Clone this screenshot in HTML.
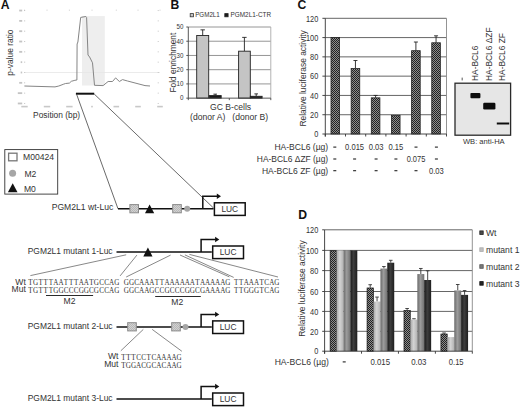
<!DOCTYPE html>
<html><head><meta charset="utf-8"><style>html,body{margin:0;padding:0;background:#fff;width:520px;height:409px;overflow:hidden}</style></head>
<body>
<svg width="520" height="409" viewBox="0 0 520 409" style="display:block">
<defs>
<pattern id="chk" x="0" y="0" width="2" height="2" patternUnits="userSpaceOnUse">
<rect width="2" height="2" fill="#8e8e8e"/><rect width="1" height="1" fill="#222"/><rect x="1" y="1" width="1" height="1" fill="#222"/>
</pattern>
<linearGradient id="g1" x1="0" x2="1" y1="0" y2="0"><stop offset="0" stop-color="#a9a9a9"/><stop offset="0.45" stop-color="#d4d4d4"/><stop offset="1" stop-color="#b0b0b0"/></linearGradient>
<linearGradient id="g2" x1="0" x2="1" y1="0" y2="0"><stop offset="0" stop-color="#6a6a6a"/><stop offset="0.45" stop-color="#9c9c9c"/><stop offset="1" stop-color="#707070"/></linearGradient>
<linearGradient id="g3" x1="0" x2="1" y1="0" y2="0"><stop offset="0" stop-color="#1a1a1a"/><stop offset="0.45" stop-color="#3e3e3e"/><stop offset="1" stop-color="#1e1e1e"/></linearGradient>
<pattern id="sq" x="0" y="0" width="2" height="2" patternUnits="userSpaceOnUse">
<rect width="2" height="2" fill="#d2d2d2"/><rect width="1" height="1" fill="#b8b8b8"/><rect x="1" y="1" width="1" height="1" fill="#b8b8b8"/>
</pattern>
<filter id="bl" x="-20%" y="-50%" width="140%" height="200%"><feGaussianBlur stdDeviation="0.45"/></filter>
</defs>
<rect width="520" height="409" fill="#fff"/>
<text x="0.8" y="9.4" font-family="Liberation Sans" font-weight="bold" font-size="12.2" fill="#111">A</text>
<text x="170.4" y="9.0" font-family="Liberation Sans" font-weight="bold" font-size="12.2" fill="#111">B</text>
<text x="297.4" y="9.4" font-family="Liberation Sans" font-weight="bold" font-size="12.2" fill="#111">C</text>
<text x="298.2" y="218.6" font-family="Liberation Sans" font-weight="bold" font-size="12.2" fill="#111">D</text>
<rect x="82" y="16.1" width="22.8" height="69.4" fill="#eeeeee"/>
<line x1="25" y1="72.5" x2="160" y2="72.5" stroke="#e6e6e6" stroke-width="0.8"/>
<rect x="19.20" y="9.65" width="3.0" height="1.8" fill="#c4c4c4"/>
<line x1="24" y1="10.55" x2="25.2" y2="10.55" stroke="#aaa" stroke-width="0.6"/>
<line x1="157.6" y1="10.55" x2="159" y2="10.55" stroke="#bbb" stroke-width="0.6"/>
<rect x="19.20" y="19.98" width="3.0" height="1.8" fill="#c4c4c4"/>
<line x1="24" y1="20.88" x2="25.2" y2="20.88" stroke="#aaa" stroke-width="0.6"/>
<line x1="157.6" y1="20.88" x2="159" y2="20.88" stroke="#bbb" stroke-width="0.6"/>
<rect x="19.20" y="30.30" width="3.0" height="1.8" fill="#c4c4c4"/>
<line x1="24" y1="31.20" x2="25.2" y2="31.20" stroke="#aaa" stroke-width="0.6"/>
<line x1="157.6" y1="31.20" x2="159" y2="31.20" stroke="#bbb" stroke-width="0.6"/>
<rect x="19.20" y="40.63" width="3.0" height="1.8" fill="#c4c4c4"/>
<line x1="24" y1="41.53" x2="25.2" y2="41.53" stroke="#aaa" stroke-width="0.6"/>
<line x1="157.6" y1="41.53" x2="159" y2="41.53" stroke="#bbb" stroke-width="0.6"/>
<rect x="19.20" y="50.95" width="3.0" height="1.8" fill="#c4c4c4"/>
<line x1="24" y1="51.85" x2="25.2" y2="51.85" stroke="#aaa" stroke-width="0.6"/>
<line x1="157.6" y1="51.85" x2="159" y2="51.85" stroke="#bbb" stroke-width="0.6"/>
<rect x="20.70" y="61.27" width="1.5" height="1.8" fill="#c4c4c4"/>
<line x1="24" y1="62.17" x2="25.2" y2="62.17" stroke="#aaa" stroke-width="0.6"/>
<line x1="157.6" y1="62.17" x2="159" y2="62.17" stroke="#bbb" stroke-width="0.6"/>
<rect x="20.70" y="71.60" width="1.5" height="1.8" fill="#c4c4c4"/>
<line x1="24" y1="72.50" x2="25.2" y2="72.50" stroke="#aaa" stroke-width="0.6"/>
<line x1="157.6" y1="72.50" x2="159" y2="72.50" stroke="#bbb" stroke-width="0.6"/>
<rect x="19.20" y="81.92" width="3.0" height="1.8" fill="#c4c4c4"/>
<line x1="24" y1="82.83" x2="25.2" y2="82.83" stroke="#aaa" stroke-width="0.6"/>
<line x1="157.6" y1="82.83" x2="159" y2="82.83" stroke="#bbb" stroke-width="0.6"/>
<rect x="17.80" y="92.25" width="4.4" height="1.8" fill="#c4c4c4"/>
<line x1="24" y1="93.15" x2="25.2" y2="93.15" stroke="#aaa" stroke-width="0.6"/>
<line x1="157.6" y1="93.15" x2="159" y2="93.15" stroke="#bbb" stroke-width="0.6"/>
<rect x="17.80" y="102.57" width="4.4" height="1.8" fill="#c4c4c4"/>
<line x1="24" y1="103.47" x2="25.2" y2="103.47" stroke="#aaa" stroke-width="0.6"/>
<line x1="157.6" y1="103.47" x2="159" y2="103.47" stroke="#bbb" stroke-width="0.6"/>
<rect x="21.30" y="105.8" width="6.4" height="1.6" fill="#c8c8c8"/>
<line x1="24.5" y1="9.6" x2="24.5" y2="10.8" stroke="#bbb" stroke-width="0.6"/>
<rect x="43.80" y="105.8" width="6.4" height="1.6" fill="#c8c8c8"/>
<line x1="47.0" y1="9.6" x2="47.0" y2="10.8" stroke="#bbb" stroke-width="0.6"/>
<rect x="66.20" y="105.8" width="6.4" height="1.6" fill="#c8c8c8"/>
<line x1="69.4" y1="9.6" x2="69.4" y2="10.8" stroke="#bbb" stroke-width="0.6"/>
<rect x="91.20" y="105.8" width="1.6" height="1.6" fill="#c8c8c8"/>
<line x1="92.0" y1="9.6" x2="92.0" y2="10.8" stroke="#bbb" stroke-width="0.6"/>
<rect x="113.50" y="105.8" width="5.6" height="1.6" fill="#c8c8c8"/>
<line x1="116.3" y1="9.6" x2="116.3" y2="10.8" stroke="#bbb" stroke-width="0.6"/>
<rect x="135.20" y="105.8" width="5.6" height="1.6" fill="#c8c8c8"/>
<line x1="138.0" y1="9.6" x2="138.0" y2="10.8" stroke="#bbb" stroke-width="0.6"/>
<rect x="157.20" y="105.8" width="5.6" height="1.6" fill="#c8c8c8"/>
<line x1="160.0" y1="9.6" x2="160.0" y2="10.8" stroke="#bbb" stroke-width="0.6"/>
<polyline fill="none" stroke="#858585" stroke-width="1" stroke-linejoin="round" points="24.4,86 55,86.9 58.8,86 63.8,84.1 65.6,83.5 69.4,83.1 71.3,81.3 74.9,80.3 76.9,80.0 77.1,44.0 77.9,42.0 80.7,17.4 85.9,16.5 86.6,17.5 88,55 89.6,57 92.5,62.8 94.5,85.3 103.1,85.6 108.1,81.5 112.5,81.5 115.6,77.9 119.4,81.5 122.5,79.6 127.5,81 145,85.6 150,86"/>
<line x1="75.9" y1="93.7" x2="94.2" y2="93.7" stroke="#111" stroke-width="2"/>
<line x1="76.5" y1="94" x2="118" y2="208.8" stroke="#444" stroke-width="0.8"/>
<line x1="94.2" y1="94" x2="213.5" y2="208" stroke="#444" stroke-width="0.8"/>
<text x="33.1" y="117.5" font-family="Liberation Sans" font-size="8.4" fill="#333">Position (bp)</text>
<text transform="translate(13.4,52.6) rotate(-90)" font-family="Liberation Sans" font-size="8.6" fill="#333" text-anchor="middle" textLength="46.2" lengthAdjust="spacingAndGlyphs">p-value ratio</text>
<line x1="188.3" y1="83.92" x2="270.8" y2="83.92" stroke="#8a8a8a" stroke-width="0.9"/>
<line x1="188.3" y1="69.69" x2="270.8" y2="69.69" stroke="#8a8a8a" stroke-width="0.9"/>
<line x1="188.3" y1="55.46" x2="270.8" y2="55.46" stroke="#8a8a8a" stroke-width="0.9"/>
<line x1="188.3" y1="41.23" x2="270.8" y2="41.23" stroke="#8a8a8a" stroke-width="0.9"/>
<line x1="188.3" y1="27.00" x2="270.8" y2="27.00" stroke="#8a8a8a" stroke-width="0.9"/>
<line x1="270.8" y1="27.00" x2="270.8" y2="98.15" stroke="#aaa" stroke-width="0.9"/>
<line x1="186.3" y1="98.15" x2="188.3" y2="98.15" stroke="#444" stroke-width="0.9"/>
<text x="183.4" y="100.45" font-family="Liberation Sans" font-size="7.4" fill="#333" text-anchor="end" textLength="3.5" lengthAdjust="spacingAndGlyphs">0</text>
<line x1="186.3" y1="83.92" x2="188.3" y2="83.92" stroke="#444" stroke-width="0.9"/>
<text x="183.4" y="86.22" font-family="Liberation Sans" font-size="7.4" fill="#333" text-anchor="end" textLength="6.9" lengthAdjust="spacingAndGlyphs">10</text>
<line x1="186.3" y1="69.69" x2="188.3" y2="69.69" stroke="#444" stroke-width="0.9"/>
<text x="183.4" y="71.99" font-family="Liberation Sans" font-size="7.4" fill="#333" text-anchor="end" textLength="6.9" lengthAdjust="spacingAndGlyphs">20</text>
<line x1="186.3" y1="55.46" x2="188.3" y2="55.46" stroke="#444" stroke-width="0.9"/>
<text x="183.4" y="57.76" font-family="Liberation Sans" font-size="7.4" fill="#333" text-anchor="end" textLength="6.9" lengthAdjust="spacingAndGlyphs">30</text>
<line x1="186.3" y1="41.23" x2="188.3" y2="41.23" stroke="#444" stroke-width="0.9"/>
<text x="183.4" y="43.53" font-family="Liberation Sans" font-size="7.4" fill="#333" text-anchor="end" textLength="6.9" lengthAdjust="spacingAndGlyphs">40</text>
<line x1="186.3" y1="27.00" x2="188.3" y2="27.00" stroke="#444" stroke-width="0.9"/>
<text x="183.4" y="29.30" font-family="Liberation Sans" font-size="7.4" fill="#333" text-anchor="end" textLength="6.9" lengthAdjust="spacingAndGlyphs">50</text>
<line x1="202.70" y1="35.54" x2="202.70" y2="29.85" stroke="#222" stroke-width="0.9"/>
<line x1="200.50" y1="29.85" x2="204.90" y2="29.85" stroke="#222" stroke-width="0.9"/>
<rect x="196.70" y="35.54" width="12.00" height="62.61" fill="#c4c4c4" stroke="#222" stroke-width="0.9"/>
<line x1="215.20" y1="95.30" x2="215.20" y2="94.17" stroke="#222" stroke-width="0.9"/>
<line x1="213.40" y1="94.17" x2="217.00" y2="94.17" stroke="#222" stroke-width="0.9"/>
<rect x="209.20" y="95.59" width="12.00" height="2.56" fill="#1a1a1a" stroke="#222" stroke-width="0.9"/>
<line x1="244.40" y1="51.19" x2="244.40" y2="37.39" stroke="#222" stroke-width="0.9"/>
<line x1="242.20" y1="37.39" x2="246.60" y2="37.39" stroke="#222" stroke-width="0.9"/>
<rect x="238.60" y="51.19" width="11.70" height="46.96" fill="#c4c4c4" stroke="#222" stroke-width="0.9"/>
<line x1="256.20" y1="96.02" x2="256.20" y2="93.88" stroke="#222" stroke-width="0.9"/>
<line x1="254.40" y1="93.88" x2="258.00" y2="93.88" stroke="#222" stroke-width="0.9"/>
<rect x="250.30" y="96.30" width="11.80" height="1.85" fill="#1a1a1a" stroke="#222" stroke-width="0.9"/>
<line x1="188.3" y1="27.00" x2="188.3" y2="100.15" stroke="#444" stroke-width="0.9"/>
<line x1="188.3" y1="98.15" x2="270.8" y2="98.15" stroke="#444" stroke-width="0.9"/>
<line x1="229.3" y1="98.15" x2="229.3" y2="100.15" stroke="#444" stroke-width="0.9"/>
<line x1="270.8" y1="98.15" x2="270.8" y2="100.15" stroke="#444" stroke-width="0.9"/>
<rect x="190.2" y="13.6" width="3.3" height="3.2" fill="#c4c4c4" stroke="#333" stroke-width="0.8"/>
<text x="195.2" y="17.2" font-family="Liberation Sans" font-size="6.4" fill="#333" textLength="24.6" lengthAdjust="spacingAndGlyphs">PGM2L1</text>
<rect x="224.8" y="13.6" width="3.3" height="3.2" fill="#1a1a1a" stroke="#222" stroke-width="0.8"/>
<text x="230.6" y="17.2" font-family="Liberation Sans" font-size="6.4" fill="#333" textLength="40.4" lengthAdjust="spacingAndGlyphs">PGM2L1-CTR</text>
<text transform="translate(175.6,62.6) rotate(-90)" font-family="Liberation Sans" font-size="8.35" fill="#333" text-anchor="middle">Fold enrichment</text>
<text x="230.6" y="110.2" font-family="Liberation Sans" font-size="8.6" fill="#333" text-anchor="middle">GC B-cells</text>
<text x="207.8" y="119.5" font-family="Liberation Sans" font-size="8.6" fill="#333" text-anchor="middle">(donor A)</text>
<text x="250.2" y="119.5" font-family="Liberation Sans" font-size="8.6" fill="#333" text-anchor="middle">(donor B)</text>
<line x1="325.3" y1="114.72" x2="446.5" y2="114.72" stroke="#555" stroke-width="0.9"/>
<line x1="325.3" y1="95.43" x2="446.5" y2="95.43" stroke="#555" stroke-width="0.9"/>
<line x1="325.3" y1="76.15" x2="446.5" y2="76.15" stroke="#555" stroke-width="0.9"/>
<line x1="325.3" y1="56.86" x2="446.5" y2="56.86" stroke="#555" stroke-width="0.9"/>
<line x1="325.3" y1="37.58" x2="446.5" y2="37.58" stroke="#555" stroke-width="0.9"/>
<line x1="325.3" y1="18.30" x2="446.5" y2="18.30" stroke="#555" stroke-width="0.9"/>
<line x1="446.5" y1="18.30" x2="446.5" y2="134.00" stroke="#888" stroke-width="0.9"/>
<line x1="322.4" y1="134.00" x2="325.3" y2="134.00" stroke="#333" stroke-width="0.9"/>
<text x="318.3" y="137.20" font-family="Liberation Sans" font-size="9.9" fill="#333" text-anchor="end" textLength="4.1" lengthAdjust="spacingAndGlyphs">0</text>
<line x1="322.4" y1="114.72" x2="325.3" y2="114.72" stroke="#333" stroke-width="0.9"/>
<text x="318.3" y="117.92" font-family="Liberation Sans" font-size="9.9" fill="#333" text-anchor="end" textLength="8.2" lengthAdjust="spacingAndGlyphs">20</text>
<line x1="322.4" y1="95.43" x2="325.3" y2="95.43" stroke="#333" stroke-width="0.9"/>
<text x="318.3" y="98.63" font-family="Liberation Sans" font-size="9.9" fill="#333" text-anchor="end" textLength="8.2" lengthAdjust="spacingAndGlyphs">40</text>
<line x1="322.4" y1="76.15" x2="325.3" y2="76.15" stroke="#333" stroke-width="0.9"/>
<text x="318.3" y="79.35" font-family="Liberation Sans" font-size="9.9" fill="#333" text-anchor="end" textLength="8.2" lengthAdjust="spacingAndGlyphs">60</text>
<line x1="322.4" y1="56.86" x2="325.3" y2="56.86" stroke="#333" stroke-width="0.9"/>
<text x="318.3" y="60.06" font-family="Liberation Sans" font-size="9.9" fill="#333" text-anchor="end" textLength="8.2" lengthAdjust="spacingAndGlyphs">80</text>
<line x1="322.4" y1="37.58" x2="325.3" y2="37.58" stroke="#333" stroke-width="0.9"/>
<text x="318.3" y="40.78" font-family="Liberation Sans" font-size="9.9" fill="#333" text-anchor="end" textLength="12.3" lengthAdjust="spacingAndGlyphs">100</text>
<line x1="322.4" y1="18.30" x2="325.3" y2="18.30" stroke="#333" stroke-width="0.9"/>
<text x="318.3" y="21.50" font-family="Liberation Sans" font-size="9.9" fill="#333" text-anchor="end" textLength="12.3" lengthAdjust="spacingAndGlyphs">120</text>
<rect x="331.00" y="37.58" width="8.60" height="96.42" fill="url(#chk)" stroke="#222" stroke-width="0.8"/>
<line x1="355.45" y1="68.53" x2="355.45" y2="60.53" stroke="#222" stroke-width="0.9"/>
<line x1="353.45" y1="60.53" x2="357.45" y2="60.53" stroke="#222" stroke-width="0.9"/>
<rect x="351.15" y="68.53" width="8.60" height="65.47" fill="url(#chk)" stroke="#222" stroke-width="0.8"/>
<line x1="375.60" y1="97.84" x2="375.60" y2="95.43" stroke="#222" stroke-width="0.9"/>
<line x1="373.60" y1="95.43" x2="377.60" y2="95.43" stroke="#222" stroke-width="0.9"/>
<rect x="371.30" y="97.84" width="8.60" height="36.16" fill="url(#chk)" stroke="#222" stroke-width="0.8"/>
<rect x="391.45" y="115.29" width="8.60" height="18.71" fill="url(#chk)" stroke="#222" stroke-width="0.8"/>
<line x1="415.90" y1="50.69" x2="415.90" y2="42.02" stroke="#222" stroke-width="0.9"/>
<line x1="413.90" y1="42.02" x2="417.90" y2="42.02" stroke="#222" stroke-width="0.9"/>
<rect x="411.60" y="50.69" width="8.60" height="83.31" fill="url(#chk)" stroke="#222" stroke-width="0.8"/>
<line x1="436.05" y1="42.79" x2="436.05" y2="35.84" stroke="#222" stroke-width="0.9"/>
<line x1="434.05" y1="35.84" x2="438.05" y2="35.84" stroke="#222" stroke-width="0.9"/>
<rect x="431.75" y="42.79" width="8.60" height="91.21" fill="url(#chk)" stroke="#222" stroke-width="0.8"/>
<line x1="325.3" y1="18.30" x2="325.3" y2="136.50" stroke="#333" stroke-width="0.9"/>
<line x1="325.3" y1="134.00" x2="446.5" y2="134.00" stroke="#333" stroke-width="0.9"/>
<line x1="325.30" y1="134.00" x2="325.30" y2="136.50" stroke="#333" stroke-width="0.9"/>
<line x1="345.50" y1="134.00" x2="345.50" y2="136.50" stroke="#333" stroke-width="0.9"/>
<line x1="365.70" y1="134.00" x2="365.70" y2="136.50" stroke="#333" stroke-width="0.9"/>
<line x1="385.90" y1="134.00" x2="385.90" y2="136.50" stroke="#333" stroke-width="0.9"/>
<line x1="406.10" y1="134.00" x2="406.10" y2="136.50" stroke="#333" stroke-width="0.9"/>
<line x1="426.30" y1="134.00" x2="426.30" y2="136.50" stroke="#333" stroke-width="0.9"/>
<line x1="446.50" y1="134.00" x2="446.50" y2="136.50" stroke="#333" stroke-width="0.9"/>
<text transform="translate(305.6,78.4) rotate(-90)" font-family="Liberation Sans" font-size="8.4" fill="#333" text-anchor="middle">Relative luciferase activity</text>
<text x="328.2" y="150.00" font-family="Liberation Sans" font-size="8.6" fill="#333" text-anchor="end" textLength="53.8" lengthAdjust="spacingAndGlyphs">HA-BCL6 (µg)</text>
<rect x="333.30" y="146.55" width="3.0" height="1.1" fill="#222"/>
<text x="354.60" y="150.00" font-family="Liberation Sans" font-size="8.6" fill="#333" text-anchor="middle" textLength="19.0" lengthAdjust="spacingAndGlyphs">0.015</text>
<text x="376.10" y="150.00" font-family="Liberation Sans" font-size="8.6" fill="#333" text-anchor="middle" textLength="14.8" lengthAdjust="spacingAndGlyphs">0.03</text>
<text x="395.90" y="150.00" font-family="Liberation Sans" font-size="8.6" fill="#333" text-anchor="middle" textLength="14.8" lengthAdjust="spacingAndGlyphs">0.15</text>
<rect x="414.50" y="146.55" width="3.0" height="1.1" fill="#222"/>
<rect x="434.90" y="146.55" width="3.0" height="1.1" fill="#222"/>
<text x="328.2" y="161.90" font-family="Liberation Sans" font-size="8.6" fill="#333" text-anchor="end" textLength="71.4" lengthAdjust="spacingAndGlyphs">HA-BCL6 ΔZF (µg)</text>
<rect x="333.30" y="158.45" width="3.0" height="1.1" fill="#222"/>
<rect x="353.10" y="158.45" width="3.0" height="1.1" fill="#222"/>
<rect x="374.60" y="158.45" width="3.0" height="1.1" fill="#222"/>
<rect x="394.40" y="158.45" width="3.0" height="1.1" fill="#222"/>
<text x="416.00" y="161.90" font-family="Liberation Sans" font-size="8.6" fill="#333" text-anchor="middle" textLength="18.7" lengthAdjust="spacingAndGlyphs">0.075</text>
<rect x="434.90" y="158.45" width="3.0" height="1.1" fill="#222"/>
<text x="328.2" y="173.60" font-family="Liberation Sans" font-size="8.6" fill="#333" text-anchor="end" textLength="66.3" lengthAdjust="spacingAndGlyphs">HA-BCL6 ZF (µg)</text>
<rect x="333.30" y="170.15" width="3.0" height="1.1" fill="#222"/>
<rect x="353.10" y="170.15" width="3.0" height="1.1" fill="#222"/>
<rect x="374.60" y="170.15" width="3.0" height="1.1" fill="#222"/>
<rect x="394.40" y="170.15" width="3.0" height="1.1" fill="#222"/>
<rect x="414.50" y="170.15" width="3.0" height="1.1" fill="#222"/>
<text x="436.40" y="173.60" font-family="Liberation Sans" font-size="8.6" fill="#333" text-anchor="middle" textLength="14.8" lengthAdjust="spacingAndGlyphs">0.03</text>
<rect x="455" y="83.2" width="55.6" height="52" fill="#e6e6e6" stroke="#2a2a2a" stroke-width="1.3"/>
<g filter="url(#bl)"><rect x="470.4" y="93.0" width="10.0" height="5.2" fill="#111" rx="1"/>
<rect x="483.2" y="102.8" width="12.2" height="6.6" fill="#111" rx="1.2"/>
<rect x="496.8" y="122.5" width="12.4" height="2.0" fill="#111"/></g>
<rect x="461.7" y="77.6" width="0.9" height="2.8" fill="#444"/>
<text transform="translate(478.2,81) rotate(-90)" font-family="Liberation Sans" font-size="8.4" fill="#333">HA-BCL6</text>
<text transform="translate(491.8,81) rotate(-90)" font-family="Liberation Sans" font-size="8.4" fill="#333">HA-BCL6 ΔZF</text>
<text transform="translate(504.5,81) rotate(-90)" font-family="Liberation Sans" font-size="8.4" fill="#333">HA-BCL6 ZF</text>
<text x="483.8" y="143.8" font-family="Liberation Sans" font-size="7.6" fill="#333" text-anchor="middle">WB: anti-HA</text>
<line x1="324.6" y1="331.30" x2="472.3" y2="331.30" stroke="#555" stroke-width="0.9"/>
<line x1="324.6" y1="311.40" x2="472.3" y2="311.40" stroke="#555" stroke-width="0.9"/>
<line x1="324.6" y1="291.50" x2="472.3" y2="291.50" stroke="#555" stroke-width="0.9"/>
<line x1="324.6" y1="270.60" x2="472.3" y2="270.60" stroke="#555" stroke-width="0.9"/>
<line x1="324.6" y1="250.40" x2="472.3" y2="250.40" stroke="#555" stroke-width="0.9"/>
<line x1="324.6" y1="229.80" x2="472.3" y2="229.80" stroke="#555" stroke-width="0.9"/>
<line x1="472.3" y1="229.80" x2="472.3" y2="351.20" stroke="#888" stroke-width="0.9"/>
<line x1="322.2" y1="351.20" x2="324.6" y2="351.20" stroke="#333" stroke-width="0.9"/>
<text x="318.3" y="354.40" font-family="Liberation Sans" font-size="9.9" fill="#333" text-anchor="end" textLength="4.1" lengthAdjust="spacingAndGlyphs">0</text>
<line x1="322.2" y1="331.30" x2="324.6" y2="331.30" stroke="#333" stroke-width="0.9"/>
<text x="318.3" y="334.50" font-family="Liberation Sans" font-size="9.9" fill="#333" text-anchor="end" textLength="8.2" lengthAdjust="spacingAndGlyphs">20</text>
<line x1="322.2" y1="311.40" x2="324.6" y2="311.40" stroke="#333" stroke-width="0.9"/>
<text x="318.3" y="314.60" font-family="Liberation Sans" font-size="9.9" fill="#333" text-anchor="end" textLength="8.2" lengthAdjust="spacingAndGlyphs">40</text>
<line x1="322.2" y1="291.50" x2="324.6" y2="291.50" stroke="#333" stroke-width="0.9"/>
<text x="318.3" y="294.70" font-family="Liberation Sans" font-size="9.9" fill="#333" text-anchor="end" textLength="8.2" lengthAdjust="spacingAndGlyphs">60</text>
<line x1="322.2" y1="270.60" x2="324.6" y2="270.60" stroke="#333" stroke-width="0.9"/>
<text x="318.3" y="273.80" font-family="Liberation Sans" font-size="9.9" fill="#333" text-anchor="end" textLength="8.2" lengthAdjust="spacingAndGlyphs">80</text>
<line x1="322.2" y1="250.40" x2="324.6" y2="250.40" stroke="#333" stroke-width="0.9"/>
<text x="318.3" y="253.60" font-family="Liberation Sans" font-size="9.9" fill="#333" text-anchor="end" textLength="12.3" lengthAdjust="spacingAndGlyphs">100</text>
<line x1="322.2" y1="229.80" x2="324.6" y2="229.80" stroke="#333" stroke-width="0.9"/>
<text x="318.3" y="233.00" font-family="Liberation Sans" font-size="9.9" fill="#333" text-anchor="end" textLength="12.3" lengthAdjust="spacingAndGlyphs">120</text>
<rect x="330.15" y="250.75" width="6.25" height="100.45" fill="url(#chk)" stroke="#111" stroke-width="0.7"/>
<rect x="336.65" y="250.40" width="6.95" height="100.80" fill="url(#g1)"/>
<rect x="343.50" y="250.40" width="6.95" height="100.80" fill="url(#g2)"/>
<rect x="350.35" y="250.40" width="6.95" height="100.80" fill="url(#g3)"/>
<line x1="370.20" y1="287.63" x2="370.20" y2="284.71" stroke="#333" stroke-width="0.9"/>
<line x1="368.40" y1="284.71" x2="372.00" y2="284.71" stroke="#333" stroke-width="0.9"/>
<rect x="367.08" y="287.98" width="6.25" height="63.22" fill="url(#chk)" stroke="#111" stroke-width="0.7"/>
<line x1="377.05" y1="301.55" x2="377.05" y2="297.07" stroke="#333" stroke-width="0.9"/>
<line x1="375.25" y1="297.07" x2="378.85" y2="297.07" stroke="#333" stroke-width="0.9"/>
<rect x="373.58" y="301.55" width="6.95" height="49.65" fill="url(#g1)"/>
<line x1="383.90" y1="268.58" x2="383.90" y2="266.56" stroke="#333" stroke-width="0.9"/>
<line x1="382.10" y1="266.56" x2="385.70" y2="266.56" stroke="#333" stroke-width="0.9"/>
<rect x="380.43" y="268.58" width="6.95" height="82.62" fill="url(#g2)"/>
<line x1="390.75" y1="262.72" x2="390.75" y2="260.30" stroke="#333" stroke-width="0.9"/>
<line x1="388.95" y1="260.30" x2="392.55" y2="260.30" stroke="#333" stroke-width="0.9"/>
<rect x="387.28" y="262.72" width="6.95" height="88.48" fill="url(#g3)"/>
<line x1="407.12" y1="310.21" x2="407.12" y2="308.51" stroke="#333" stroke-width="0.9"/>
<line x1="405.32" y1="308.51" x2="408.93" y2="308.51" stroke="#333" stroke-width="0.9"/>
<rect x="404.00" y="310.56" width="6.25" height="40.64" fill="url(#chk)" stroke="#111" stroke-width="0.7"/>
<line x1="413.98" y1="319.56" x2="413.98" y2="318.76" stroke="#333" stroke-width="0.9"/>
<line x1="412.18" y1="318.76" x2="415.78" y2="318.76" stroke="#333" stroke-width="0.9"/>
<rect x="410.50" y="319.56" width="6.95" height="31.64" fill="url(#g1)"/>
<line x1="420.82" y1="274.05" x2="420.82" y2="268.48" stroke="#333" stroke-width="0.9"/>
<line x1="419.02" y1="268.48" x2="422.62" y2="268.48" stroke="#333" stroke-width="0.9"/>
<rect x="417.35" y="274.05" width="6.95" height="77.15" fill="url(#g2)"/>
<line x1="427.68" y1="280.00" x2="427.68" y2="270.81" stroke="#333" stroke-width="0.9"/>
<line x1="425.88" y1="270.81" x2="429.48" y2="270.81" stroke="#333" stroke-width="0.9"/>
<rect x="424.20" y="280.00" width="6.95" height="71.19" fill="url(#g3)"/>
<line x1="444.05" y1="333.69" x2="444.05" y2="332.99" stroke="#333" stroke-width="0.9"/>
<line x1="442.25" y1="332.99" x2="445.85" y2="332.99" stroke="#333" stroke-width="0.9"/>
<rect x="440.93" y="334.04" width="6.25" height="17.16" fill="url(#chk)" stroke="#111" stroke-width="0.7"/>
<rect x="447.43" y="337.07" width="6.95" height="14.13" fill="url(#g1)"/>
<line x1="457.75" y1="290.45" x2="457.75" y2="284.50" stroke="#333" stroke-width="0.9"/>
<line x1="455.95" y1="284.50" x2="459.55" y2="284.50" stroke="#333" stroke-width="0.9"/>
<rect x="454.27" y="290.45" width="6.95" height="60.75" fill="url(#g2)"/>
<line x1="464.60" y1="294.88" x2="464.60" y2="290.56" stroke="#333" stroke-width="0.9"/>
<line x1="462.80" y1="290.56" x2="466.40" y2="290.56" stroke="#333" stroke-width="0.9"/>
<rect x="461.12" y="294.88" width="6.95" height="56.32" fill="url(#g3)"/>
<line x1="324.6" y1="229.80" x2="324.6" y2="353.70" stroke="#333" stroke-width="0.9"/>
<line x1="324.6" y1="351.20" x2="472.3" y2="351.20" stroke="#333" stroke-width="0.9"/>
<line x1="324.60" y1="351.20" x2="324.60" y2="353.70" stroke="#333" stroke-width="0.9"/>
<line x1="361.53" y1="351.20" x2="361.53" y2="353.70" stroke="#333" stroke-width="0.9"/>
<line x1="398.45" y1="351.20" x2="398.45" y2="353.70" stroke="#333" stroke-width="0.9"/>
<line x1="435.38" y1="351.20" x2="435.38" y2="353.70" stroke="#333" stroke-width="0.9"/>
<line x1="472.30" y1="351.20" x2="472.30" y2="353.70" stroke="#333" stroke-width="0.9"/>
<text transform="translate(305.2,288.6) rotate(-90)" font-family="Liberation Sans" font-size="8.4" fill="#333" text-anchor="middle">Relative luciferase activity</text>
<text x="328.8" y="364.8" font-family="Liberation Sans" font-size="8.6" fill="#333" text-anchor="end">HA-BCL6 (µg)</text>
<rect x="342.70" y="361.35" width="3.0" height="1.1" fill="#222"/>
<text x="380.20" y="364.80" font-family="Liberation Sans" font-size="8.6" fill="#333" text-anchor="middle" textLength="19.6" lengthAdjust="spacingAndGlyphs">0.015</text>
<text x="418.80" y="364.80" font-family="Liberation Sans" font-size="8.6" fill="#333" text-anchor="middle" textLength="15.3" lengthAdjust="spacingAndGlyphs">0.03</text>
<text x="456.20" y="364.80" font-family="Liberation Sans" font-size="8.6" fill="#333" text-anchor="middle" textLength="14.8" lengthAdjust="spacingAndGlyphs">0.15</text>
<rect x="479.8" y="230.90" width="3.4" height="3.6" fill="#4a4a4a" stroke="#222" stroke-width="0.8"/>
<text x="486" y="235.60" font-family="Liberation Sans" font-size="8.6" fill="#333">Wt</text>
<rect x="479.8" y="247.80" width="3.4" height="3.6" fill="#c0c0c0" stroke="#aaa" stroke-width="0.8"/>
<text x="486" y="252.90" font-family="Liberation Sans" font-size="8.6" fill="#333">mutant 1</text>
<rect x="479.8" y="264.70" width="3.4" height="3.6" fill="#7a7a7a" stroke="#555" stroke-width="0.8"/>
<text x="486" y="269.80" font-family="Liberation Sans" font-size="8.6" fill="#333">mutant 2</text>
<rect x="479.8" y="281.60" width="3.4" height="3.6" fill="#222" stroke="#111" stroke-width="0.8"/>
<text x="486" y="286.70" font-family="Liberation Sans" font-size="8.6" fill="#333">mutant 3</text>
<rect x="4.8" y="149.6" width="52.9" height="44.5" fill="none" stroke="#333" stroke-width="0.9"/>
<rect x="8.6" y="153.2" width="8.4" height="7.6" fill="none" stroke="#777" stroke-width="1.3"/>
<text x="23.1" y="160.1" font-family="Liberation Sans" font-size="8.6" fill="#333">M00424</text>
<circle cx="12.6" cy="173.3" r="3.5" fill="#a6a6a6"/>
<text x="24.4" y="177.1" font-family="Liberation Sans" font-size="8.6" fill="#333">M2</text>
<polygon points="7.9,192.2 17.5,192.2 12.7,183.3" fill="#111"/>
<text x="23.9" y="191.8" font-family="Liberation Sans" font-size="8.6" fill="#333">M0</text>
<text x="113.3" y="210.20" font-family="Liberation Sans" font-size="8.6" fill="#333" text-anchor="end">PGM2L1 wt-Luc</text>
<line x1="118" y1="208.8" x2="213.5" y2="208.8" stroke="#111" stroke-width="1.5"/>
<rect x="129.90" y="204.60" width="8.6" height="8.2" fill="url(#sq)" stroke="#8a8a8a" stroke-width="1"/>
<polygon points="145.00,213.20 154.20,213.20 149.60,204.40" fill="#111"/>
<rect x="172.70" y="204.60" width="8.6" height="8.2" fill="url(#sq)" stroke="#8a8a8a" stroke-width="1"/>
<circle cx="187.2" cy="208.8" r="3.0" fill="#a6a6a6"/>
<polyline points="202.8,208.8 202.8,196.30 217.5,196.30" fill="none" stroke="#111" stroke-width="1.5"/>
<polygon points="216.8,193.60 221,196.30 216.8,199.00" fill="#111"/>
<rect x="214.4" y="202.80" width="30.8" height="12.6" fill="#fff" stroke="#111" stroke-width="1.5"/>
<text x="229.8" y="211.80" font-family="Liberation Sans" font-size="8.4" fill="#333" text-anchor="middle">LUC</text>
<text x="112.6" y="254.20" font-family="Liberation Sans" font-size="8.45" fill="#333" text-anchor="end">PGM2L1 mutant 1-Luc</text>
<line x1="116.5" y1="252.0" x2="211.8" y2="252.0" stroke="#111" stroke-width="1.5"/>
<polygon points="143.30,256.40 152.50,256.40 147.90,247.60" fill="#111"/>
<polyline points="201.10000000000002,252.0 201.10000000000002,239.50 215.8,239.50" fill="none" stroke="#111" stroke-width="1.5"/>
<polygon points="215.10000000000002,236.80 219.3,239.50 215.10000000000002,242.20" fill="#111"/>
<rect x="212.70000000000002" y="246.00" width="30.8" height="12.6" fill="#fff" stroke="#111" stroke-width="1.5"/>
<text x="228.10000000000002" y="255.00" font-family="Liberation Sans" font-size="8.4" fill="#333" text-anchor="middle">LUC</text>
<text x="112.6" y="329.10" font-family="Liberation Sans" font-size="8.45" fill="#333" text-anchor="end">PGM2L1 mutant 2-Luc</text>
<line x1="116.5" y1="326.9" x2="211.8" y2="326.9" stroke="#111" stroke-width="1.5"/>
<rect x="127.70" y="322.70" width="8.6" height="8.2" fill="url(#sq)" stroke="#8a8a8a" stroke-width="1"/>
<rect x="171.70" y="322.70" width="8.6" height="8.2" fill="url(#sq)" stroke="#8a8a8a" stroke-width="1"/>
<circle cx="185.5" cy="326.9" r="3.0" fill="#a6a6a6"/>
<polyline points="201.10000000000002,326.9 201.10000000000002,314.40 215.8,314.40" fill="none" stroke="#111" stroke-width="1.5"/>
<polygon points="215.10000000000002,311.70 219.3,314.40 215.10000000000002,317.10" fill="#111"/>
<rect x="212.70000000000002" y="320.90" width="30.8" height="12.6" fill="#fff" stroke="#111" stroke-width="1.5"/>
<text x="228.10000000000002" y="329.90" font-family="Liberation Sans" font-size="8.4" fill="#333" text-anchor="middle">LUC</text>
<text x="112.6" y="401.00" font-family="Liberation Sans" font-size="8.45" fill="#333" text-anchor="end">PGM2L1 mutant 3-Luc</text>
<line x1="116.5" y1="399.0" x2="211.8" y2="399.0" stroke="#111" stroke-width="1.5"/>
<polyline points="201.10000000000002,399.0 201.10000000000002,386.50 215.8,386.50" fill="none" stroke="#111" stroke-width="1.5"/>
<polygon points="215.10000000000002,383.80 219.3,386.50 215.10000000000002,389.20" fill="#111"/>
<rect x="212.70000000000002" y="393.00" width="30.8" height="12.6" fill="#fff" stroke="#111" stroke-width="1.5"/>
<text x="228.10000000000002" y="402.00" font-family="Liberation Sans" font-size="8.4" fill="#333" text-anchor="middle">LUC</text>
<line x1="126.2" y1="254.8" x2="30.4" y2="275.6" stroke="#555" stroke-width="0.7"/>
<line x1="136.9" y1="255.1" x2="120.1" y2="275.9" stroke="#555" stroke-width="0.7"/>
<line x1="170.6" y1="255.1" x2="126.2" y2="277" stroke="#555" stroke-width="0.7"/>
<line x1="180.0" y1="255.0" x2="229.4" y2="276.9" stroke="#555" stroke-width="0.7"/>
<line x1="184.9" y1="254.9" x2="233.7" y2="277.4" stroke="#555" stroke-width="0.7"/>
<line x1="189.4" y1="254.4" x2="278" y2="277" stroke="#555" stroke-width="0.7"/>
<text x="25.8" y="284.6" font-family="Liberation Sans" font-size="8.6" fill="#333" text-anchor="end">Wt</text>
<text x="25.8" y="292.2" font-family="Liberation Sans" font-size="8.6" fill="#333" text-anchor="end">Mut</text>
<text transform="scale(0.96,1)" x="29.55 34.42 40.11 45.39 50.67 55.54 60.82 66.52 71.80 77.08 81.95 87.23 92.92 97.79 103.28 108.56 113.64 118.92" y="285.0" font-family="Liberation Serif" font-size="7.4" fill="#333">TGTTTAATTTAATGCCAG</text>
<text transform="scale(0.96,1)" x="29.55 34.42 40.11 45.39 50.67 55.54 60.82 66.31 71.59 76.87 81.95 87.23 92.71 97.79 103.28 108.56 113.64 118.92" y="292.9" font-family="Liberation Serif" font-size="7.4" fill="#333">TGTTTGGCCCGGCGCCAG</text>
<text transform="scale(0.96,1)" x="129.03 134.31 139.80 144.87 150.16 155.44 161.13 166.41 171.28 176.56 181.84 187.12 192.41 197.69 203.38 208.25 213.53 218.81 224.09 229.37 234.66" y="285.0" font-family="Liberation Serif" font-size="7.4" fill="#333">GGCAAATTAAAAAATAAAAAG</text>
<text transform="scale(0.96,1)" x="129.03 134.31 139.80 144.87 150.16 155.44 160.92 166.20 171.28 176.77 182.05 187.33 192.41 197.69 203.17 208.25 213.53 218.81 224.09 229.37 234.66" y="292.9" font-family="Liberation Serif" font-size="7.4" fill="#333">GGCAAGCCGCCCGGCGAAAAG</text>
<text transform="scale(0.96,1)" x="243.82 249.10 253.97 259.25 264.53 270.22 275.30 280.37 285.66" y="285.0" font-family="Liberation Serif" font-size="7.4" fill="#333">TTAAATCAG</text>
<text transform="scale(0.96,1)" x="243.82 249.10 253.97 259.25 264.53 270.22 275.30 280.37 285.66" y="292.9" font-family="Liberation Serif" font-size="7.4" fill="#333">TTGGGTCAG</text>
<line x1="46" y1="295.5" x2="93.1" y2="295.5" stroke="#2a2a2a" stroke-width="1"/>
<line x1="155.2" y1="296.5" x2="200.8" y2="296.5" stroke="#2a2a2a" stroke-width="1"/>
<text x="69.5" y="304.4" font-family="Liberation Sans" font-size="8.6" fill="#333" text-anchor="middle">M2</text>
<text x="177.3" y="305.2" font-family="Liberation Sans" font-size="8.6" fill="#333" text-anchor="middle">M2</text>
<line x1="143.3" y1="329.4" x2="120.8" y2="350.8" stroke="#555" stroke-width="0.7"/>
<line x1="152.2" y1="329.4" x2="181.9" y2="351.3" stroke="#555" stroke-width="0.7"/>
<text x="118.5" y="358.5" font-family="Liberation Sans" font-size="8.6" fill="#333" text-anchor="end">Wt</text>
<text x="118.5" y="367.3" font-family="Liberation Sans" font-size="8.6" fill="#333" text-anchor="end">Mut</text>
<text transform="scale(0.96,1)" x="126.21 131.50 136.78 141.85 147.13 152.62 157.69 162.77 168.05 173.33 178.61 183.90" y="360.0" font-family="Liberation Serif" font-size="7.4" fill="#333">TTTCCTCAAAAG</text>
<text transform="scale(0.96,1)" x="126.21 131.08 136.36 141.65 147.13 152.21 157.69 162.77 168.26 173.33 178.61 183.90" y="368.0" font-family="Liberation Serif" font-size="7.4" fill="#333">TGGACGCACAAG</text>
</svg>
</body></html>
